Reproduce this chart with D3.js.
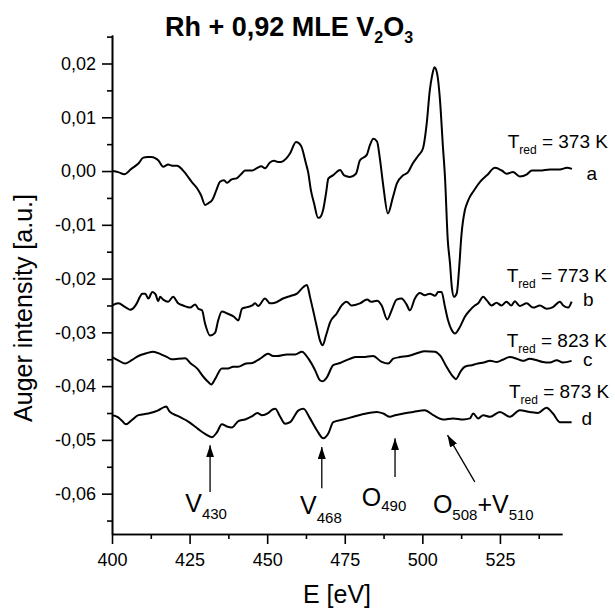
<!DOCTYPE html>
<html>
<head>
<meta charset="utf-8">
<script src="https://cdn.jsdelivr.net/npm/d3@7"></script>
<style>
  body { margin: 0; background: #fff; }
  text { font-family: "Liberation Sans", Arial, sans-serif; fill: #000; }
</style>
</head>
<body>
<svg id="chart" width="615" height="611"></svg>
<script>
// ---- data (E in eV, intensity in a.u.) ----
const curveA_E = [400.1,402.0,404.0,406.2,408.5,410.1,411.4,412.6,413.9,414.9,416.5,418.1,419.4,421.0,422.6,423.9,425.8,427.4,428.7,430.0,431.0,432.3,433.6,434.8,436.1,437.1,438.4,440.3,441.9,442.9,445.2,446.8,448.1,449.3,450.9,452.2,453.5,454.5,456.1,457.4,459.3,460.9,462.5,463.2,464.1,465.1,466.4,467.0,468.0,469.0,469.7,471.2,473.5,474.8,476.7,478.6,479.9,482.1,483.1,484.2,485.4,486.3,487.4,488.9,490.5,491.8,493.8,495.4,496.9,498.6,500.2,501.4,502.4,503.1,503.9,504.7,505.7,506.6,507.3,508.2,508.9,509.5,510.2,511.1,511.8,512.6,513.7,514.4,515.3,516.3,518.6,520.8,523.4,525.6,527.2,529.2,531.4,533.7,535.3,537.9,541.1,544.3,546.6,548.2];
const curveA_I = [0.0000,-0.0002,-0.0006,0.0004,0.0014,0.0025,0.0026,0.0026,0.0024,0.0020,0.0008,0.0012,0.0010,0.0010,0.0003,-0.0006,-0.0021,-0.0032,-0.0045,-0.0063,-0.0060,-0.0054,-0.0036,-0.0020,-0.0017,-0.0022,-0.0016,-0.0013,-0.0004,0.0001,0.0001,0.0006,0.0009,0.0005,0.0016,0.0019,0.0017,0.0017,0.0023,0.0033,0.0054,0.0047,0.0014,-0.0002,-0.0036,-0.0060,-0.0087,-0.0086,-0.0073,-0.0040,-0.0014,-0.0008,0.0002,-0.0008,-0.0011,-0.0005,0.0020,0.0030,0.0048,0.0060,0.0055,0.0024,-0.0027,-0.0079,-0.0049,-0.0023,-0.0008,-0.0002,0.0014,0.0028,0.0042,0.0088,0.0150,0.0176,0.0193,0.0183,0.0131,0.0048,-0.0012,-0.0129,-0.0171,-0.0216,-0.0234,-0.0227,-0.0185,-0.0119,-0.0073,-0.0060,-0.0048,-0.0039,-0.0020,-0.0008,0.0006,0.0001,-0.0005,-0.0002,-0.0010,-0.0006,0.0001,0.0001,0.0003,0.0003,0.0006,0.0004];

const curveB_E = [400.1,402.0,404.3,405.9,407.8,409.1,409.7,410.7,411.7,413.0,414.0,414.9,415.5,416.5,418.1,419.7,421.3,422.9,425.2,426.8,427.8,429.0,430.0,431.6,433.2,434.2,435.4,437.1,439.3,440.7,441.9,443.5,445.2,446.1,447.1,449.3,450.9,452.5,455.1,457.7,459.6,461.6,462.8,463.8,464.8,466.0,467.0,467.9,469.0,470.3,472.4,474.0,475.6,477.2,479.9,482.2,483.5,485.4,486.9,488.7,490.1,491.7,493.3,494.9,496.0,497.6,499.2,500.8,502.4,504.1,505.1,506.2,507.3,508.3,509.5,510.5,512.1,513.7,515.3,516.9,518.0,519.6,520.7,522.3,523.9,525.5,527.1,528.7,529.8,531.4,533.6,535.7,537.9,540.0,542.1,544.3,545.4,547.0,548.1];
const curveB_I = [-0.0250,-0.0246,-0.0253,-0.0258,-0.0248,-0.0233,-0.0228,-0.0228,-0.0237,-0.0225,-0.0229,-0.0242,-0.0234,-0.0239,-0.0243,-0.0234,-0.0246,-0.0250,-0.0254,-0.0248,-0.0256,-0.0259,-0.0284,-0.0306,-0.0301,-0.0278,-0.0261,-0.0265,-0.0271,-0.0278,-0.0256,-0.0253,-0.0250,-0.0246,-0.0251,-0.0237,-0.0246,-0.0245,-0.0237,-0.0232,-0.0228,-0.0216,-0.0212,-0.0234,-0.0259,-0.0290,-0.0315,-0.0324,-0.0305,-0.0281,-0.0265,-0.0250,-0.0243,-0.0250,-0.0246,-0.0239,-0.0243,-0.0241,-0.0250,-0.0276,-0.0259,-0.0239,-0.0237,-0.0248,-0.0259,-0.0237,-0.0227,-0.0231,-0.0228,-0.0232,-0.0225,-0.0225,-0.0253,-0.0278,-0.0296,-0.0302,-0.0290,-0.0271,-0.0259,-0.0250,-0.0246,-0.0234,-0.0240,-0.0250,-0.0245,-0.0250,-0.0243,-0.0250,-0.0242,-0.0251,-0.0246,-0.0254,-0.0250,-0.0256,-0.0253,-0.0243,-0.0250,-0.0254,-0.0243];

const curveC_E = [400.1,402.0,404.3,406.5,408.5,411.0,413.3,415.8,417.8,419.1,423.6,425.2,427.4,429.5,431.1,432.0,433.2,435.4,437.4,439.0,440.6,443.2,445.2,446.8,447.7,450.3,451.9,453.2,456.4,459.0,461.2,463.3,465.4,467.0,468.0,469.2,471.3,473.5,476.7,478.6,480.9,484.1,486.9,489.0,490.6,492.8,495.4,498.2,500.8,504.1,505.7,507.8,510.0,510.8,512.4,513.7,515.9,517.9,519.8,521.8,524.0,525.9,528.2,530.4,532.4,534.6,536.9,538.8,541.1,543.3,545.3,548.1];
const curveC_I = [-0.0346,-0.0352,-0.0358,-0.0351,-0.0344,-0.0339,-0.0336,-0.0341,-0.0346,-0.0350,-0.0348,-0.0357,-0.0367,-0.0383,-0.0393,-0.0397,-0.0387,-0.0367,-0.0367,-0.0364,-0.0364,-0.0358,-0.0357,-0.0352,-0.0349,-0.0340,-0.0344,-0.0344,-0.0341,-0.0341,-0.0336,-0.0349,-0.0370,-0.0389,-0.0391,-0.0384,-0.0361,-0.0357,-0.0349,-0.0346,-0.0346,-0.0344,-0.0355,-0.0358,-0.0349,-0.0346,-0.0344,-0.0339,-0.0335,-0.0336,-0.0343,-0.0364,-0.0383,-0.0387,-0.0372,-0.0364,-0.0361,-0.0358,-0.0356,-0.0353,-0.0355,-0.0351,-0.0346,-0.0349,-0.0353,-0.0349,-0.0352,-0.0355,-0.0356,-0.0352,-0.0356,-0.0353];

const curveD_E = [400.1,402.0,403.3,404.5,406.4,408.5,411.7,414.9,416.8,417.5,418.5,421.3,424.6,427.8,430.0,432.2,433.8,435.4,437.0,438.6,440.7,442.9,445.2,446.8,448.4,450.3,451.9,452.6,454.2,455.8,457.4,460.1,461.7,463.8,466.0,468.1,469.7,471.3,474.5,477.8,481.0,485.3,487.4,489.6,491.2,493.9,497.1,500.8,503.5,506.7,509.9,513.2,515.3,516.4,518.0,519.6,521.8,525.0,528.2,531.4,534.6,537.3,540.0,542.1,544.3,545.9,548.1];
const curveD_I = [-0.0454,-0.0458,-0.0465,-0.0471,-0.0463,-0.0454,-0.0451,-0.0445,-0.0439,-0.0438,-0.0447,-0.0456,-0.0466,-0.0480,-0.0489,-0.0495,-0.0486,-0.0471,-0.0475,-0.0477,-0.0465,-0.0462,-0.0456,-0.0450,-0.0454,-0.0450,-0.0443,-0.0442,-0.0457,-0.0470,-0.0467,-0.0445,-0.0442,-0.0460,-0.0482,-0.0497,-0.0488,-0.0467,-0.0462,-0.0457,-0.0452,-0.0448,-0.0451,-0.0457,-0.0454,-0.0451,-0.0448,-0.0445,-0.0454,-0.0462,-0.0460,-0.0462,-0.0460,-0.0451,-0.0460,-0.0454,-0.0457,-0.0448,-0.0457,-0.0445,-0.0448,-0.0450,-0.0440,-0.0451,-0.0467,-0.0467,-0.0467];

const curveNames = ["a", "b", "c", "d"];
const redTemps = ["373", "773", "823", "873"];

const xTicks = [400, 425, 450, 475, 500, 525];
const yTicks = [-0.06, -0.05, -0.04, -0.03, -0.02, -0.01, 0.00, 0.01, 0.02];

// peak annotations: element, energy subscript
const peakLabels = [["V", "430"], ["V", "468"], ["O", "490"]];

// ---- layout ----
var margin = {top: 35, right: 53, bottom: 77, left: 112};
var width = 615 - margin.left - margin.right,
    height = 611 - margin.top - margin.bottom;

var svg = d3.select("#chart");
var g = svg.append("g").attr("transform", `translate(${margin.left},${margin.top})`);

var xScale = d3.scaleLinear().domain([400, 545]).range([0, width]);
var yScale = d3.scaleLinear().domain([-0.0675, 0.0253]).range([height, 0]);

var fmtY = d => d3.format(".2f")(d).replace(".", ",").replace("\u2212", "-");

// minor ticks
var xMinor = d3.range(412.5, 545, 25);
var yMinor = d3.range(-0.065, 0.026, 0.01).map(v => +v.toFixed(3));

g.append("g").attr("transform", `translate(0,${height})`)
  .call(d3.axisBottom(xScale).tickValues(xMinor).tickFormat("").tickSize(5).tickSizeOuter(0));
g.append("g")
  .call(d3.axisLeft(yScale).tickValues(yMinor).tickFormat("").tickSize(5).tickSizeOuter(0));

var xAxis = g.append("g").attr("transform", `translate(0,${height})`)
  .call(d3.axisBottom(xScale).tickValues(xTicks).tickSize(10).tickPadding(9).tickSizeOuter(0));
var yAxis = g.append("g")
  .call(d3.axisLeft(yScale).tickValues(yTicks).tickFormat(fmtY).tickSize(10).tickPadding(6).tickSizeOuter(0));

g.selectAll(".domain, .tick line").attr("stroke", "#000").attr("stroke-width", 1.6);
g.selectAll(".tick text").style("font-size", "18px").attr("fill", "#000")
  .style("font-family", '"Liberation Sans", Arial, sans-serif');

// ---- curves ----
var series = [
  {name: "a", E: curveA_E, I: curveA_I},
  {name: "b", E: curveB_E, I: curveB_I},
  {name: "c", E: curveC_E, I: curveC_I},
  {name: "d", E: curveD_E, I: curveD_I}
];

var line = d3.line()
  .x(d => xScale(d[0]))
  .y(d => yScale(d[1]))
  .curve(d3.curveMonotoneX);

g.selectAll("path.spec")
  .data(series)
  .join("path")
    .attr("class", "spec")
    .attr("fill", "none")
    .attr("stroke", "#000")
    .attr("stroke-width", 2)
    .attr("stroke-linejoin", "round")
    .attr("d", s => line(s.E.map((e, i) => [e, s.I[i]])));

// ---- right side labels ----
// label positions in data units (E, intensity)
var tempPos = [[527.5, 0.0042], [527.2, -0.0206], [527.2, -0.0327], [527.9, -0.0423]];
var letterPos = [[552.9, -0.0017], [551.8, -0.0251], [551.8, -0.0363], [551.3, -0.0473]];

redTemps.forEach(function(t, i) {
  var txt = g.append("text")
    .attr("x", xScale(tempPos[i][0]))
    .attr("y", yScale(tempPos[i][1]))
    .style("font-size", "19px");
  txt.append("tspan").text("T");
  txt.append("tspan").text("red").attr("dy", 6).style("font-size", "12px");
  txt.append("tspan").text(" = " + t + " K").attr("dy", -6);

  g.append("text")
    .attr("x", xScale(letterPos[i][0]))
    .attr("y", yScale(letterPos[i][1]))
    .style("font-size", "19px")
    .text(curveNames[i]);
});

// ---- peak arrows & labels ----
svg.append("defs").append("marker")
  .attr("id", "head")
  .attr("viewBox", "0 0 12 8")
  .attr("refX", 12).attr("refY", 4)
  .attr("markerWidth", 12).attr("markerHeight", 8)
  .attr("markerUnits", "userSpaceOnUse")
  .attr("orient", "auto")
  .append("path").attr("d", "M0,0 L12,4 L0,8 Z").attr("fill", "#000");

// arrows: [E tail, I tail, E tip, I tip]
var arrows = [
  [431.6, -0.0597, 431.6, -0.0510],
  [467.6, -0.0590, 467.6, -0.0513],
  [491.2, -0.0569, 491.2, -0.0497],
  [516.9, -0.0578, 508.1, -0.0491]
];
g.selectAll("line.arrow")
  .data(arrows)
  .join("line")
    .attr("class", "arrow")
    .attr("x1", d => xScale(d[0])).attr("y1", d => yScale(d[1]))
    .attr("x2", d => xScale(d[2])).attr("y2", d => yScale(d[3]))
    .attr("stroke", "#000").attr("stroke-width", 1.3)
    .attr("marker-end", "url(#head)");

// label anchor (E, intensity of baseline) and subscript drop
var peakPos = [[423.6, -0.0634, 7], [460.6, -0.0638, 9], [480.5, -0.0622, 5]];
peakLabels.forEach(function(p, i) {
  var t = g.append("text")
    .attr("x", xScale(peakPos[i][0]))
    .attr("y", yScale(peakPos[i][1]))
    .style("font-size", "25px");
  t.append("tspan").text(p[0]);
  t.append("tspan").text(p[1]).attr("dy", peakPos[i][2]).style("font-size", "15px");
});

var combo = g.append("text")
  .attr("x", xScale(503.4))
  .attr("y", yScale(-0.0636))
  .style("font-size", "25px");
combo.append("tspan").text("O");
combo.append("tspan").text("508").attr("dy", 7).style("font-size", "15px");
combo.append("tspan").text("+V").attr("dy", -7);
combo.append("tspan").text("510").attr("dy", 7).style("font-size", "15px");

// ---- titles ----
var title = svg.append("text")
  .attr("x", 289).attr("y", 36)
  .attr("text-anchor", "middle")
  .style("font-size", "27px")
  .style("font-weight", "bold");
title.append("tspan").text("Rh + 0,92 MLE V");
title.append("tspan").text("2").attr("dy", 7).style("font-size", "16px");
title.append("tspan").text("O").attr("dy", -7);
title.append("tspan").text("3").attr("dy", 7).style("font-size", "16px");

svg.append("text")
  .attr("x", margin.left + xScale(472.5))
  .attr("y", 603)
  .attr("text-anchor", "middle")
  .style("font-size", "25px")
  .text("E [eV]");

svg.append("text")
  .attr("transform", "translate(32,308) rotate(-90)")
  .attr("text-anchor", "middle")
  .style("font-size", "25px")
  .text("Auger intensity [a.u.]");
</script>
</body>
</html>
